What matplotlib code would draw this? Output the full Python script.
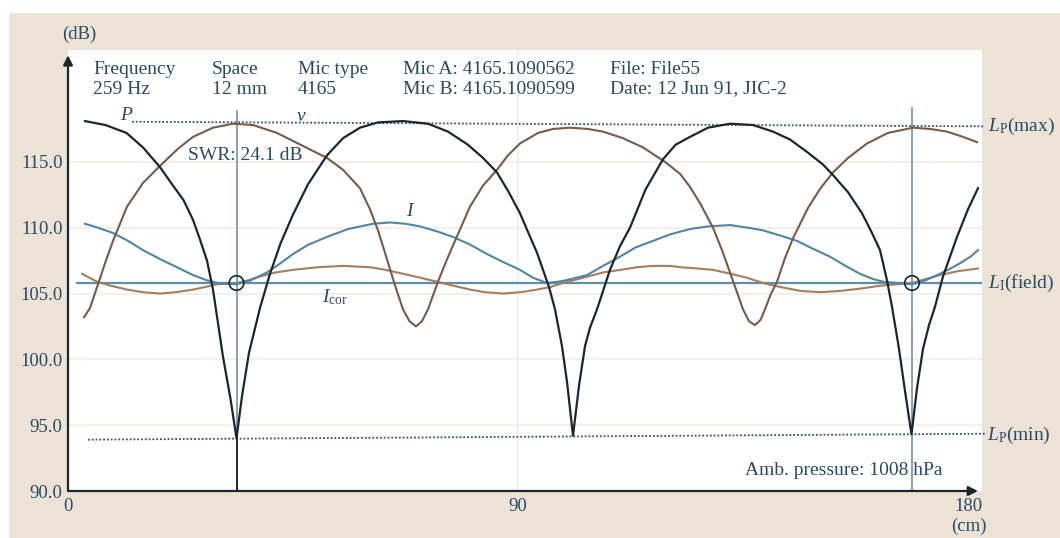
import matplotlib
matplotlib.use("Agg")
import matplotlib.pyplot as plt
from matplotlib.patches import Rectangle

plt.rcParams['font.family'] = ['Liberation Serif', 'DejaVu Serif']
plt.rcParams['mathtext.fontset'] = 'custom'
plt.rcParams['mathtext.rm'] = 'Liberation Serif'
plt.rcParams['mathtext.it'] = 'Liberation Serif:italic'

# --- data (x in cm, level in dB) ---
p_x = [3.4, 7.5, 11.7, 15.0, 18.4, 21.0, 23.1, 25.0, 26.4, 27.8, 29.0, 31.0, 32.5, 33.7,
       34.8, 36.2, 38.4, 40.4, 42.5, 45.0, 48.0, 51.8, 55.0, 58.4, 62.0, 67.0, 72.0, 76.0,
       80.0, 83.0, 85.8, 88.0, 90.4, 92.2, 93.8, 95.0, 96.2, 97.4, 98.8, 99.8, 101.0,
       102.2, 103.4, 104.4, 105.8, 108.4, 110.4, 112.4, 115.5, 119.0, 121.5, 124.4, 128.0,
       132.4, 137.0, 141.0, 144.4, 148.0, 151.0, 153.0, 156.0, 158.8, 160.8, 162.4, 163.8,
       164.8, 166.2, 167.4, 168.7, 169.8, 171.0, 172.2, 173.4, 175.0, 177.8, 180.0, 182.0]
p_db = [118.1, 117.8, 117.2, 116.1, 114.6, 113.2, 112.1, 110.6, 109.1, 107.5, 105.3, 100.2, 97.0, 94.0,
        97.2, 100.5, 103.9, 106.5, 108.8, 111.0, 113.3, 115.5, 116.8, 117.6, 118.0, 118.1, 117.9, 117.3,
        116.3, 115.3, 114.2, 112.8, 111.1, 109.5, 108.1, 106.8, 105.5, 103.8, 101.0, 98.3, 94.2,
        98.0, 101.0, 102.4, 103.8, 106.8, 108.6, 110.0, 112.9, 115.2, 116.3, 116.9, 117.6,
        117.9, 117.8, 117.3, 116.7, 115.7, 114.8, 114.0, 112.7, 111.1, 109.6, 108.3, 106.0,
        104.0, 100.8, 97.6, 94.3, 97.8, 100.8, 102.6, 104.0, 106.3, 109.3, 111.4, 113.0]

v_x = [3.2, 4.4, 6.0, 7.5, 9.0, 11.8, 15.0, 18.4, 22.0, 25.0, 29.0, 33.0, 37.0, 41.8, 46.0,
       51.8, 55.0, 58.4, 60.4, 62.0, 63.8, 65.5, 67.0, 68.3, 69.6, 70.8, 72.0, 74.0, 75.8,
       77.4, 80.4, 83.0, 85.8, 88.0, 90.4, 94.0, 97.0, 100.4, 104.0, 107.0, 111.0, 115.0,
       119.4, 122.4, 124.4, 126.5, 129.0, 130.8, 132.4, 133.8, 135.0, 136.2, 137.4, 138.5,
       139.4, 140.5, 141.8, 143.4, 145.0, 148.0, 150.5, 153.0, 156.0, 159.8, 164.0, 169.0,
       172.5, 175.8, 179.0, 181.8]
v_db = [103.2, 103.9, 105.7, 107.4, 109.0, 111.6, 113.4, 114.7, 116.0, 116.9, 117.6, 117.9, 117.8, 117.2, 116.4,
        115.3, 114.4, 113.0, 111.4, 109.8, 107.6, 105.5, 103.8, 102.9, 102.5, 102.9, 103.8, 105.9, 107.6,
        109.0, 111.6, 113.2, 114.4, 115.5, 116.4, 117.2, 117.5, 117.6, 117.5, 117.3, 116.8, 116.1,
        115.0, 114.1, 113.1, 111.8, 110.0, 108.3, 106.6, 105.1, 103.8, 102.9, 102.6, 103.0,
        103.8, 104.9, 105.9, 107.7, 109.2, 111.5, 113.0, 114.2, 115.3, 116.4, 117.2, 117.6,
        117.5, 117.3, 116.9, 116.5]

i_x = [3.4, 6.0, 9.0, 12.0, 15.0, 18.5, 21.8, 25.0, 27.8, 30.0, 33.7, 36.5, 39.8, 42.5, 45.0,
       48.0, 51.8, 56.0, 61.0, 64.4, 67.5, 70.4, 74.0, 77.0, 80.5, 83.8, 87.0, 90.4, 93.0,
       95.8, 98.0, 99.5, 103.8, 107.0, 110.4, 113.5, 117.0, 120.5, 124.4, 128.0, 132.4,
       136.0, 139.0, 142.5, 145.8, 149.0, 152.4, 155.5, 158.4, 161.0, 163.0, 166.0, 168.8,
       171.5, 174.4, 176.5, 178.4, 180.5, 182.0]
i_db = [110.3, 110.0, 109.6, 109.0, 108.3, 107.6, 107.0, 106.4, 106.0, 105.8, 105.7, 106.0, 106.6, 107.3, 108.0,
        108.7, 109.3, 109.9, 110.3, 110.4, 110.3, 110.1, 109.7, 109.3, 108.7, 108.0, 107.4, 106.8, 106.2,
        105.8, 105.9, 106.0, 106.4, 107.1, 107.8, 108.5, 109.0, 109.5, 109.9, 110.1, 110.2,
        110.0, 109.8, 109.4, 109.0, 108.4, 107.8, 107.1, 106.5, 106.1, 105.9, 105.8, 105.7,
        106.0, 106.5, 106.9, 107.3, 107.8, 108.3]

icor_x = [2.8, 5.8, 8.5, 11.8, 15.0, 18.4, 21.5, 25.0, 27.5, 29.8, 33.7, 36.0, 38.4, 41.5, 45.0,
          50.0, 55.0, 60.4, 63.5, 67.0, 70.5, 73.8, 77.0, 80.4, 83.5, 87.0, 90.5, 93.8, 96.5,
          99.0, 103.0, 107.0, 110.5, 113.8, 117.0, 120.4, 122.4, 126.0, 129.0, 132.5, 135.8,
          139.0, 142.4, 146.5, 150.4, 154.5, 159.0, 162.5, 165.8, 168.8, 171.5, 174.4, 178.0, 182.0]
icor_db = [106.5, 105.9, 105.6, 105.3, 105.1, 105.0, 105.1, 105.3, 105.5, 105.7, 105.8, 106.0, 106.3, 106.6, 106.8,
           107.0, 107.1, 107.0, 106.8, 106.5, 106.2, 105.9, 105.6, 105.3, 105.1, 105.0, 105.1, 105.3, 105.5,
           105.8, 106.2, 106.6, 106.8, 107.0, 107.1, 107.1, 107.0, 106.9, 106.8, 106.5, 106.2,
           105.8, 105.5, 105.2, 105.1, 105.2, 105.4, 105.6, 105.7, 105.8, 106.1, 106.4, 106.7, 106.9]

lp_max_x = [12.8, 183.4]
lp_max_db = [118.05, 117.7]
lp_min_x = [4.0, 183.4]
lp_min_db = [93.9, 94.35]
li_x = [1.8, 182.8]
li_db = [105.8, 105.8]
marker_x = [33.7, 168.8]      # positions of the two cursors
marker_db = [105.8, 105.8]
cursor_top = [118.9, 119.1]
p_min_at_cursor = 94.0

y_ticks = [90, 95, 100, 105, 110, 115]
x_ticks = [0, 90, 180]

# --- style ---
BEIGE = "#ece3d6"
TXT = "#284b62"
DARK = "#1c262e"
BROWN = "#7a5a45"
LBROWN = "#a47e5e"
BLUE = "#4f86a3"
GRID = "#f7eeea"

W, H = 1060, 538
def fx(x): return x / W
def fy(y): return 1 - y / H

fig = plt.figure(figsize=(W / 100, H / 100), dpi=100)
fig.patch.set_facecolor(BEIGE)
fig.patches.append(Rectangle((0, fy(12)), 1, 12 / H, transform=fig.transFigure, color="white", zorder=0))
fig.patches.append(Rectangle((0, 0), 8 / W, 1, transform=fig.transFigure, color="white", zorder=0))

ax = fig.add_axes([fx(68), fy(491), fx(982) - fx(68), fy(50) - fy(491)])
ax.set_facecolor("white")
ax.set_xlim(0, 182.8)
ax.set_ylim(90, 123.5)
for s in ax.spines.values():
    s.set_visible(False)

# faint grid
for yv in y_ticks[1:]:
    ax.axhline(yv, color=GRID, lw=1.5, zorder=0)
ax.axvline(90, color=GRID, lw=1.5, zorder=0)

ax.set_yticks(y_ticks)
ax.set_yticklabels([f"{t:.1f}" for t in y_ticks], fontsize=13.5, color=TXT)
ax.set_xticks(x_ticks)
ax.set_xticklabels([str(t) for t in x_ticks], fontsize=13.5, color=TXT)
ax.tick_params(length=0)
ax.tick_params(axis="y", pad=4)
ax.tick_params(axis="x", pad=5)

# reference lines
ax.plot(lp_max_x, lp_max_db, color="#30546b", lw=1.3, ls=(0, (1, 1.1)), clip_on=False, zorder=2)
ax.plot(lp_min_x, lp_min_db, color="#30546b", lw=1.3, ls=(0, (1, 1.1)), clip_on=False, zorder=2)
ax.plot(li_x, li_db, color="#5b8fab", lw=1.6, zorder=2)

# cursors
ax.plot([marker_x[0], marker_x[0]], [p_min_at_cursor, cursor_top[0]], color="#6a94ab", lw=1.2, zorder=2)
ax.plot([marker_x[0], marker_x[0]], [90, p_min_at_cursor], color=DARK, lw=1.4, zorder=2)
ax.plot([marker_x[1], marker_x[1]], [90, cursor_top[1]], color="#6a94ab", lw=1.2, zorder=2)

# curves
ax.plot(icor_x, icor_db, color=LBROWN, lw=1.5, zorder=3)
ax.plot(i_x, i_db, color=BLUE, lw=1.5, zorder=3)
ax.plot(v_x, v_db, color=BROWN, lw=1.5, zorder=4)
ax.plot(p_x, p_db, color=DARK, lw=1.6, zorder=5)
ax.scatter(marker_x, marker_db, s=110, facecolors="none", edgecolors=DARK, linewidths=1.2, zorder=6)

# axes with arrows
ax.annotate("", xy=(0, 123.1), xytext=(0, 90), annotation_clip=False,
            arrowprops=dict(arrowstyle="-|>", color=DARK, lw=1.6, mutation_scale=14, shrinkA=0, shrinkB=0))
ax.annotate("", xy=(182, 90), xytext=(0, 90), annotation_clip=False,
            arrowprops=dict(arrowstyle="-|>", color=DARK, lw=1.6, mutation_scale=14, shrinkA=0, shrinkB=0))

# --- texts ---
def label(x, y, s, ha="left", size=14, **kw):
    fig.text(fx(x), fy(y), s, ha=ha, va="baseline", fontsize=size, color=TXT, **kw)

label(62, 39, "(dB)", size=13.5)
label(969, 531, "(cm)", ha="center", size=13.5)

header = [(93, "Frequency", "259 Hz"), (212, "Space", "12 mm"), (298, "Mic type", "4165"),
          (403, "Mic A: 4165.1090562", "Mic B: 4165.1090599"),
          (610, "File: File55", "Date: 12 Jun 91, JIC-2")]
for hx, l1, l2 in header:
    label(hx, 73.5, l1)
    label(hx, 93.5, l2)

label(120, 120, "P", style="italic")
label(297, 121, "v", style="italic")
label(188, 160, "SWR: 24.1 dB")
label(406, 216, "I", style="italic")
label(322, 302, r"$I_{\mathrm{cor}}$")
label(988, 131, r"$L_{\mathrm{P}}$(max)")
label(988, 288, r"$L_{\mathrm{I}}$(field)")
label(987, 440, r"$L_{\mathrm{P}}$(min)")
label(745, 475, "Amb. pressure: 1008 hPa")

fig.savefig("out.png", dpi=100, facecolor=fig.get_facecolor())
